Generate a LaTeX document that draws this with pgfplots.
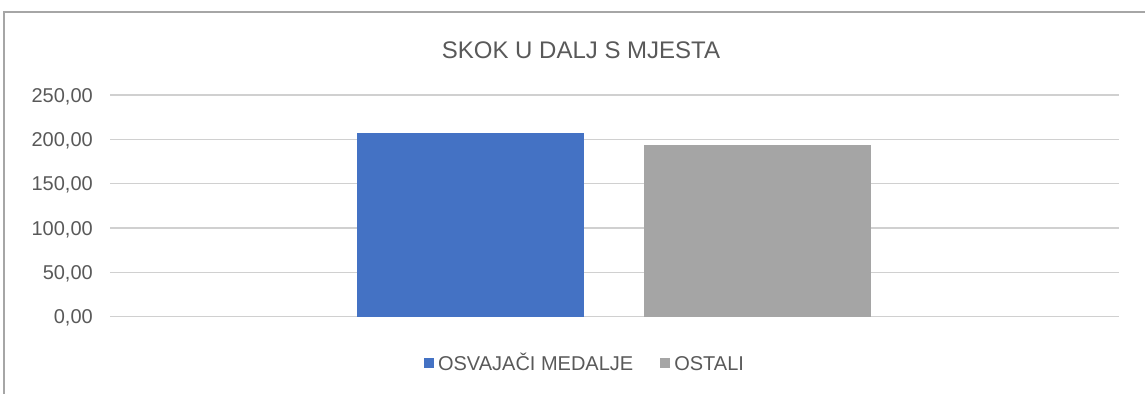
\documentclass[border=0pt]{standalone}
\usepackage{fontspec}
\setmainfont{Liberation Sans}
\usepackage{pgfplots}
\pgfplotsset{compat=1.18}

\definecolor{txt}{HTML}{595959}
\definecolor{gridc}{HTML}{D0D0D0}
\definecolor{framec}{HTML}{A6A6A6}
\definecolor{barblue}{HTML}{4472C4}
\definecolor{bargray}{HTML}{A5A5A5}

\begin{document}
\begin{tikzpicture}[x=1pt,y=1pt]
  % page size
  \path[use as bounding box] (0,0) rectangle (1145,394);
  % chart frame (left and top edges)
  \draw[framec, line width=1.3pt] (4,0) -- (4,382) -- (1145,382);
  % title
  \node[anchor=base, text=txt, font=\fontsize{24}{28}\selectfont, inner sep=0pt]
    at (581,335) {SKOK U DALJ S MJESTA};

  \begin{axis}[
    at={(110pt,77.3pt)}, anchor=south west,
    scale only axis,
    width=1009pt, height=221.7pt,
    xmin=-1, xmax=1,
    ymin=0, ymax=250,
    ytick={0,50,100,150,200,250},
    xtick=\empty,
    ymajorgrids,
    grid style={gridc, line width=1.2pt},
    axis line style={draw=none},
    major tick length=0pt,
    tick style={draw=none},
    /pgf/number format/.cd, fixed, fixed zerofill, precision=2, use comma, 1000 sep={}, assume math mode=true,
    /pgfplots/.cd,
    yticklabel style={anchor=base east, inner sep=0pt, xshift=-17pt, yshift=-7.2pt,
      text=txt, font=\fontsize{20}{24}\selectfont},
    ybar=60pt,
    bar width=227pt,
    legend columns=2,
    legend style={at={(0.4698,-0.209)}, anchor=center, draw=none, fill=none,
      inner sep=0pt, text=txt, font=\fontsize{20}{24}\selectfont,
      nodes={inner sep=0pt, text height=14.3pt, text depth=0pt},
      /tikz/every odd column/.append style={column sep=4pt},
      /tikz/every even column/.append style={column sep=27pt}},
    legend image code/.code={\fill[#1] (0pt,-5pt) rectangle (10pt,5pt);},
  ]
    \addplot[fill=barblue, draw=none] coordinates {(0,207.3)};
    \addplot[fill=bargray, draw=none] coordinates {(0,194.1)};
    \legend{OSVAJAČI MEDALJE, OSTALI}
  \end{axis}
\end{tikzpicture}
\end{document}
